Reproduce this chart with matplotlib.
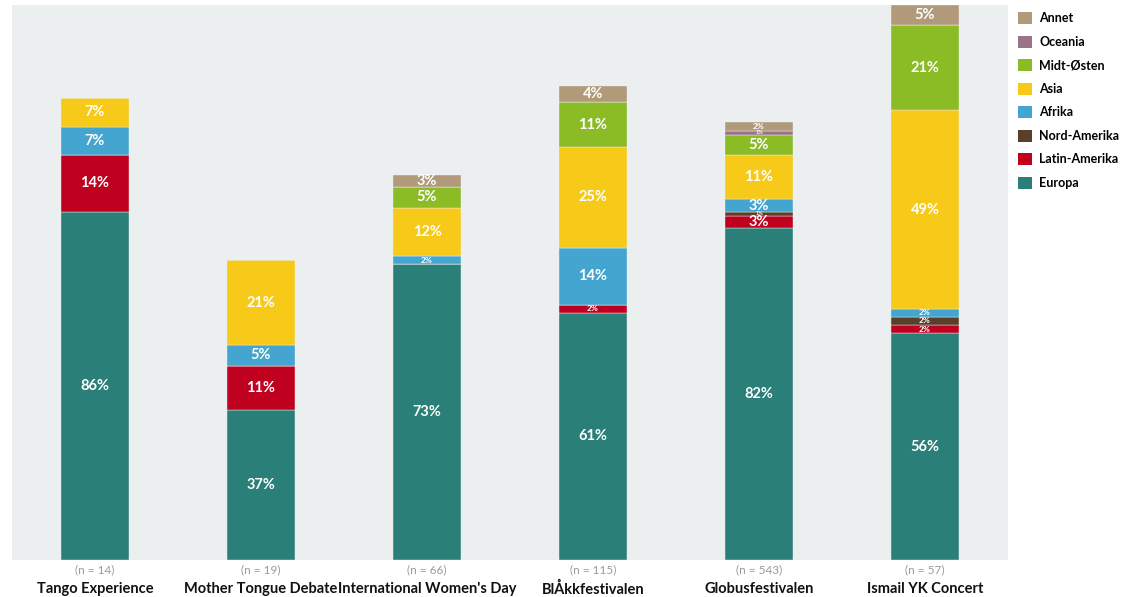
import matplotlib.pyplot as plt
import numpy as np
from matplotlib.patches import Patch

plt.rcParams['font.family'] = ['Lato', 'DejaVu Sans']

events = ['Tango Experience', 'Mother Tongue Debate', "International Women's Day",
          'BlÅkkfestivalen', 'Globusfestivalen', 'Ismail YK Concert']
n_counts = [14, 19, 66, 115, 543, 57]

regions = ['Europa', 'Latin-Amerika', 'Nord-Amerika', 'Afrika', 'Asia', 'Midt-Østen', 'Oceania', 'Annet']
colors = ['#2a7f78', '#c0001f', '#5a3f2a', '#44a6d0', '#f7c919', '#8bbb25', '#9a7389', '#b09a7a']

europa = [86, 37, 73, 61, 82, 56]
latin = [14, 11, 0, 2, 3, 2]
nord = [0, 0, 0, 0, 1, 2]
afrika = [7, 5, 2, 14, 3, 2]
asia = [7, 21, 12, 25, 11, 49]
midt = [0, 0, 5, 11, 5, 21]
oceania = [0, 0, 0, 0, 1, 0]
annet = [0, 0, 3, 4, 2, 5]

series = [europa, latin, nord, afrika, asia, midt, oceania, annet]

fig = plt.figure(figsize=(11.34, 5.97), dpi=100)
ax = fig.add_axes([12 / 1134, 1 - 560 / 597, 996 / 1134, 555 / 597])
ax.set_facecolor('#eceff0')

x = np.arange(len(events))
bottom = np.zeros(len(events))
for name, vals, col in zip(regions, series, colors):
    vals = np.array(vals, dtype=float)
    ax.bar(x, vals, 0.41, bottom=bottom, color=col, label=name,
           edgecolor='#eceff0', linewidth=0.3)
    for xi, v, b in zip(x, vals, bottom):
        if v <= 0:
            continue
        if v <= 1:
            fs = 4
        elif v <= 2:
            fs = 6
        else:
            fs = 10.5
        ax.text(xi, b + v / 2, f'{int(v)}%', ha='center', va='center',
                color='white', fontsize=fs, fontweight='bold')
    bottom += vals

ax.set_xlim(-0.5, len(events) - 0.5)
ax.set_ylim(0, 137)
ax.set_xticks([])
ax.set_yticks([])
for s in ax.spines.values():
    s.set_visible(False)

for xi, ev, n in zip(x, events, n_counts):
    ax.annotate(f'(n = {n})', (xi, 0), xytext=(0, -7), textcoords='offset points',
                ha='center', va='center', fontsize=8.5, color='#999999')
    ax.annotate(ev, (xi, 0), xytext=(0, -21), textcoords='offset points',
                ha='center', va='center', fontsize=10.5, fontweight='bold', color='#111111')

handles = [Patch(facecolor=c, label=r) for r, c in zip(regions, colors)][::-1]
fig.legend(handles=handles, loc='upper left', bbox_to_anchor=(1013 / 1134, 1 - 7 / 597),
           frameon=False, handlelength=1.1, handleheight=1.1, handletextpad=0.6,
           labelspacing=0.9, prop={'weight': 'bold', 'size': 9}, borderaxespad=0)

fig.savefig('out.png', dpi=100)
